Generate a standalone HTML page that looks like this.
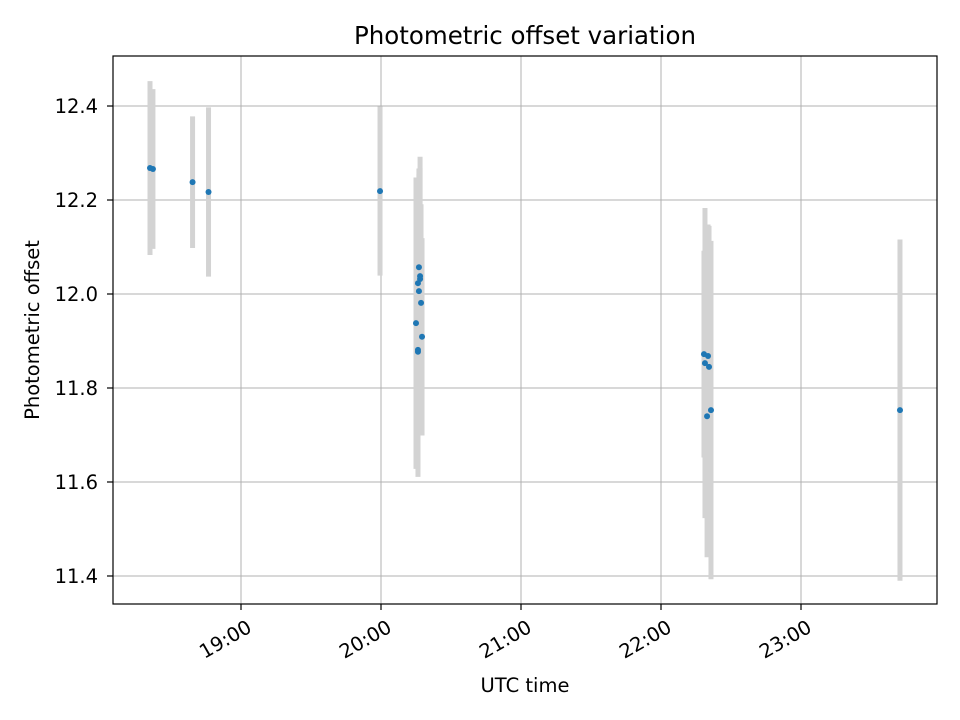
<!DOCTYPE html>
<html><head><meta charset="utf-8"><style>
body{margin:0;background:#fff;}
svg{display:block;font-family:"DejaVu Sans","Liberation Sans",sans-serif;}
</style></head><body>
<svg id="chart" width="960" height="720"></svg>
<script>
const times = [18.350,18.371,18.654,18.768,19.993,20.271,20.279,20.279,20.264,20.271,20.286,20.250,20.293,20.264,20.264,22.307,22.336,22.314,22.343,22.357,22.329,23.707];
const offsets = [12.268,12.266,12.238,12.217,12.219,12.057,12.038,12.032,12.023,12.006,11.981,11.938,11.909,11.881,11.877,11.872,11.868,11.853,11.845,11.753,11.740,11.753];
const errors = [0.185,0.17,0.14,0.18,0.18,0.21,0.23,0.26,0.20,0.25,0.21,0.31,0.21,0.27,0.25,0.22,0.28,0.33,0.30,0.36,0.30,0.363];
const xTickHours = [19,20,21,22,23];
const xTickLabels = ["19:00","20:00","21:00","22:00","23:00"];
const yTicks = [11.4,11.6,11.8,12.0,12.2,12.4];

const L=113,R=937,T=56,B=604;
const xMin=18.0857,xMax=23.9714,yMin=11.3404,yMax=12.5064;
const xs=h=>L+(h-xMin)/(xMax-xMin)*(R-L);
const ys=v=>B-(v-yMin)/(yMax-yMin)*(B-T);
const svg=document.getElementById('chart');
const NS='http://www.w3.org/2000/svg';
function mk(tag,attrs,parent){const e=document.createElementNS(NS,tag);for(const k in attrs)e.setAttribute(k,attrs[k]);(parent||svg).appendChild(e);return e;}

xTickHours.forEach((h,i)=>{
  const g=mk('line',{x1:xs(h),x2:xs(h),y1:T,y2:B,stroke:'#b0b0b0','stroke-width':1});
  
  
  mk('line',{x1:xs(h),x2:xs(h),y1:B,y2:B+6,stroke:'#000','stroke-width':1.2});
  const t=mk('text',{x:0,y:0,'font-size':19.5,'text-anchor':'end',transform:`translate(${xs(h)+12},${B+27}) rotate(-30)`});
  t.textContent=xTickLabels[i];
  
  
});
yTicks.forEach(v=>{
  const g=mk('line',{x1:L,x2:R,y1:ys(v),y2:ys(v),stroke:'#b0b0b0','stroke-width':1});
  
  
  mk('line',{x1:L-6,x2:L,y1:ys(v),y2:ys(v),stroke:'#000','stroke-width':1.2});
  const t=mk('text',{x:L-15,y:ys(v)+7,'font-size':19.5,'text-anchor':'end'});
  t.textContent=v.toFixed(1);
  
  
});
times.forEach((h,i)=>{
  const e=mk('line',{x1:xs(h),x2:xs(h),y1:ys(offsets[i]+errors[i]),y2:ys(offsets[i]-errors[i]),stroke:'#d3d3d3','stroke-width':5});
  
  
});
times.forEach((h,i)=>{
  const p=mk('circle',{cx:xs(h),cy:ys(offsets[i]),r:3,fill:'#1f77b4'});
  
  
});
const fr=mk('rect',{x:L,y:T,width:R-L,height:B-T,fill:'none',stroke:'#000','stroke-width':1.2});


const ti=mk('text',{x:(L+R)/2,y:44,'font-size':24.5,'text-anchor':'middle'});ti.textContent='Photometric offset variation';


const xl=mk('text',{x:(L+R)/2,y:692,'font-size':19.5,'text-anchor':'middle'});xl.textContent='UTC time';


const yl=mk('text',{x:0,y:0,'font-size':19.5,'text-anchor':'middle',transform:`translate(39,${(T+B)/2}) rotate(-90)`});yl.textContent='Photometric offset';


</script>
</body></html>
